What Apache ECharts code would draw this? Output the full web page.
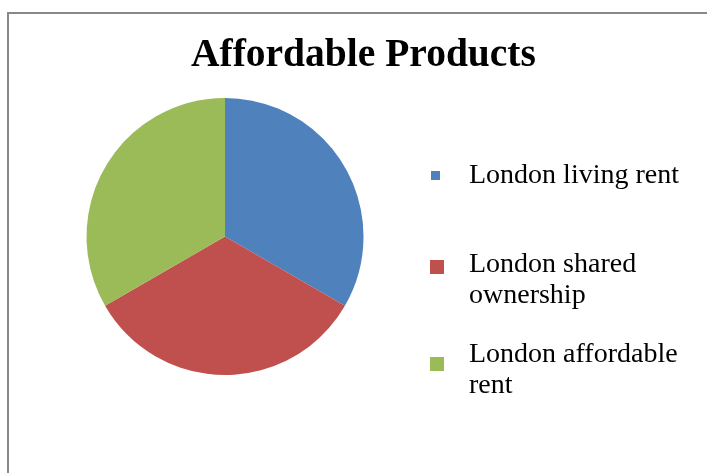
<!DOCTYPE html>
<html>
<head>
<meta charset="utf-8">
<style>
html,body{margin:0;padding:0;background:#fff;}
#chart{width:707px;height:473px;}
</style>
<script src="https://cdn.jsdelivr.net/npm/echarts@6/dist/echarts.min.js"></script>
</head>
<body>
<div id="chart"></div>
<script>
const titleText = 'Affordable Products';
const categories = ['London living rent', 'London shared ownership', 'London affordable rent'];
const legendLines = [['London living rent'], ['London shared', 'ownership'], ['London affordable', 'rent']];
const values = [1, 1, 1];
const colors = ['#4F81BD', '#C0504D', '#9BBB59'];

const FONT = '"Liberation Serif", "Times New Roman", serif';
const chart = echarts.init(document.getElementById('chart'), null, {renderer: 'canvas'});

const legendLayout = [
  {top: 160, left: 431, size: 9, padLeft: 24, gap: 0},
  {top: 222.5, left: 430, size: 14, padLeft: 20, gap: 27},
  {top: 326.5, left: 430, size: 14, padLeft: 20, gap: 13}
];

const legends = categories.map((name, i) => {
  const lay = legendLayout[i];
  const textLines = legendLines[i].map(s => '{t|' + s + '}');
  const label = (lay.gap ? ['{g| }'] : []).concat(textLines).join('\n');
  return {
    show: true,
    orient: 'vertical',
    left: lay.left,
    top: lay.top,
    padding: 0,
    itemWidth: lay.size,
    itemHeight: lay.size,
    icon: 'rect',
    selectedMode: false,
    data: [{name: name, icon: 'rect'}],
    formatter: () => label,
    textStyle: {
      fontFamily: FONT,
      fontSize: 28,
      lineHeight: 31,
      color: '#000',
      padding: [0, 0, 0, lay.padLeft],
      rich: {
        t: {fontFamily: FONT, fontSize: 28, lineHeight: 31, color: '#000'},
        g: {fontFamily: FONT, fontSize: 1, lineHeight: lay.gap || 1, color: '#000'}
      }
    }
  };
});

chart.setOption({
  animation: false,
  backgroundColor: '#fff',
  color: colors,
  title: {
    text: titleText,
    left: 191,
    top: 36,
    padding: 0,
    textStyle: {
      fontFamily: FONT,
      fontWeight: 'bold',
      fontSize: 39.5,
      color: '#000'
    }
  },
  graphic: [{
    type: 'rect',
    shape: {x: 8, y: 13, width: 800, height: 600},
    style: {fill: 'none', stroke: '#898989', lineWidth: 2},
    silent: true
  }],
  legend: legends,
  series: [{
    type: 'pie',
    center: [225, 236.5],
    radius: 138.5,
    startAngle: 90,
    clockwise: true,
    label: {show: false},
    labelLine: {show: false},
    emphasis: {disabled: true},
    itemStyle: {borderWidth: 0},
    data: categories.map((name, i) => ({name: name, value: values[i]}))
  }]
});
</script>
</body>
</html>
